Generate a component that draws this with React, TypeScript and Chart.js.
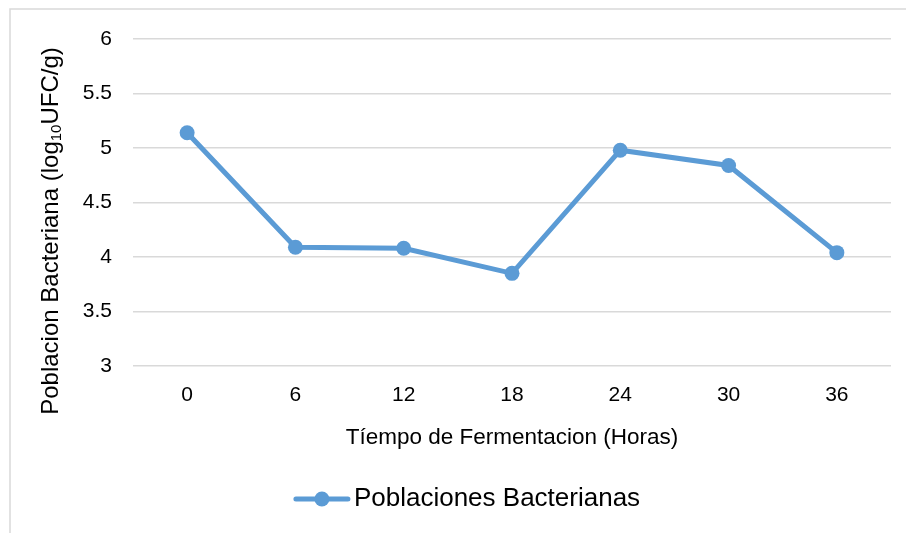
import React, { useEffect, useRef } from "react";
import { Chart, registerables } from "chart.js";

Chart.register(...registerables);

const categories = ["0", "6", "12", "18", "24", "30", "36"];
const poblaciones = [5.14, 4.09, 4.08, 3.85, 4.98, 4.84, 4.04];
const seriesName = "Poblaciones Bacterianas";
const xTitle = "Tíempo de Fermentacion (Horas)";
const yTitleMain = "Poblacion Bacteriana (log";
const yTitleSub = "10";
const yTitleEnd = "UFC/g)";
const yMin = 3;
const yMax = 6;
const yStep = 0.5;

const FONT = "'Liberation Sans', Arial, sans-serif";
const BLUE = "#5B9BD5";
const GRID = "#D9D9D9";

const framePlugin = {
  id: "frameAndExtras",
  beforeDraw(chart: any) {
    const { ctx, width, height } = chart;
    ctx.save();
    ctx.fillStyle = "#ffffff";
    ctx.fillRect(0, 0, width, height);
    ctx.strokeStyle = GRID;
    ctx.lineWidth = 1.5;
    ctx.beginPath();
    ctx.moveTo(width, 9);
    ctx.lineTo(10, 9);
    ctx.lineTo(10, height);
    ctx.stroke();
    ctx.restore();
  },
  afterDraw(chart: any) {
    const { ctx } = chart;
    // y axis title with subscript
    ctx.save();
    ctx.translate(51, 231);
    ctx.rotate(-Math.PI / 2);
    ctx.fillStyle = "#000";
    ctx.textBaseline = "middle";
    ctx.textAlign = "left";
    const mainFont = `24px ${FONT}`;
    const subFont = `15px ${FONT}`;
    ctx.font = mainFont;
    const w1 = ctx.measureText(yTitleMain).width;
    const w3 = ctx.measureText(yTitleEnd).width;
    ctx.font = subFont;
    const w2 = ctx.measureText(yTitleSub).width;
    let x = -(w1 + w2 + w3) / 2;
    ctx.font = mainFont;
    ctx.fillText(yTitleMain, x, 0);
    x += w1;
    ctx.font = subFont;
    ctx.fillText(yTitleSub, x, 6);
    x += w2;
    ctx.font = mainFont;
    ctx.fillText(yTitleEnd, x, 0);
    ctx.restore();

    // legend
    ctx.save();
    const ds = chart.data.datasets[0];
    const legendFont = `26px ${FONT}`;
    ctx.font = legendFont;
    const tw = ctx.measureText(ds.label).width;
    const lineLen = 56;
    const gap = 4;
    const total = lineLen + gap + tw;
    const cx = 467;
    const cy = chart.height - 34;
    const x0 = cx - total / 2;
    ctx.strokeStyle = ds.borderColor;
    ctx.lineWidth = 5;
    ctx.lineCap = "round";
    ctx.beginPath();
    ctx.moveTo(x0 + 2, cy);
    ctx.lineTo(x0 + lineLen - 2, cy);
    ctx.stroke();
    ctx.fillStyle = ds.pointBackgroundColor;
    ctx.beginPath();
    ctx.arc(x0 + lineLen / 2, cy, 7.5, 0, Math.PI * 2);
    ctx.fill();
    ctx.fillStyle = "#000";
    ctx.textBaseline = "middle";
    ctx.textAlign = "left";
    ctx.fillText(ds.label, x0 + lineLen + gap, cy);
    ctx.restore();
  },
};

export default function App() {
  const canvasRef = useRef<HTMLCanvasElement | null>(null);

  useEffect(() => {
    document.body.style.margin = "0";
    const canvas = canvasRef.current;
    if (!canvas) return;
    const chart = new Chart(canvas, {
      type: "line",
      data: {
        labels: categories,
        datasets: [
          {
            label: seriesName,
            data: poblaciones,
            borderColor: BLUE,
            backgroundColor: BLUE,
            pointBackgroundColor: BLUE,
            pointBorderColor: BLUE,
            pointBorderWidth: 0,
            pointRadius: 7.5,
            borderWidth: 5,
            tension: 0,
            fill: false,
          },
        ],
      },
      options: {
        responsive: false,
        animation: false,
        devicePixelRatio: 1,
        layout: { padding: { left: 0, top: 39, right: 15, bottom: 67 } },
        plugins: {
          legend: { display: false },
          tooltip: { enabled: false },
          title: { display: false },
        },
        scales: {
          x: {
            type: "category",
            offset: true,
            grid: { display: false, drawTicks: false },
            border: { display: false },
            ticks: {
              color: "#000",
              font: { family: FONT, size: 21 },
              padding: 17,
              maxRotation: 0,
            },
            title: {
              display: true,
              text: xTitle,
              color: "#000",
              font: { family: FONT, size: 22.5 },
              padding: { top: 0, bottom: 15 },
            },
            afterFit: (scale: any) => {
              scale.height = 100;
            },
          },
          y: {
            min: yMin,
            max: yMax,
            grid: { color: GRID, lineWidth: 1.5, drawTicks: false },
            border: { display: false },
            ticks: {
              stepSize: yStep,
              color: "#000",
              font: { family: FONT, size: 21 },
              padding: 21,
              callback: (v: any) => String(v),
            },
            afterFit: (scale: any) => {
              scale.width = 133;
            },
          },
        },
      },
      plugins: [framePlugin],
    });
    return () => chart.destroy();
  }, []);

  return (
    <div style={{ width: 906, height: 533, position: "relative" }}>
      <canvas ref={canvasRef} width={906} height={533} style={{ display: "block" }} />
    </div>
  );
}
